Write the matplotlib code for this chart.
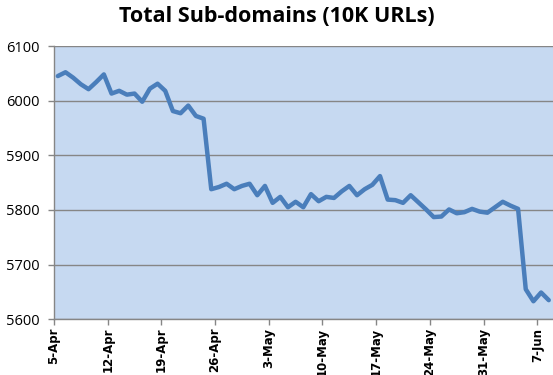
import matplotlib
matplotlib.use("Agg")
import matplotlib.pyplot as plt
import numpy as np

title = "Total Sub-domains (10K URLs)"
tick_labels = ["5-Apr", "12-Apr", "19-Apr", "26-Apr", "3-May", "10-May",
               "17-May", "24-May", "31-May", "7-Jun"]
# daily values from 5-Apr to 8-Jun
values = [6045, 6052, 6042, 6030, 6021, 6034, 6048, 6013, 6018, 6011,
          6013, 5998, 6022, 6031, 6018, 5981, 5977, 5991, 5972, 5967,
          5838, 5842, 5848, 5838, 5844, 5848, 5827, 5844, 5813, 5824,
          5805, 5815, 5805, 5829, 5816, 5824, 5822, 5834, 5844, 5827,
          5838, 5846, 5862, 5819, 5818, 5813, 5827, 5814, 5801, 5787,
          5788, 5801, 5794, 5796, 5802, 5797, 5795, 5805, 5815, 5808,
          5802, 5655, 5633, 5649, 5635]
y_ticks = [5600, 5700, 5800, 5900, 6000, 6100]

fig = plt.figure(figsize=(5.53, 3.75), dpi=100)
ax = fig.add_axes([54/553, 1-319.3/375, 498.6/553, 273.3/375])
ax.set_facecolor("#C6D9F1")

days = np.arange(len(values)) + 0.5
ax.plot(days, values, color="#4A7EBB", lw=3.2, solid_joinstyle="round",
        solid_capstyle="round", clip_on=False, zorder=3)

ax.set_xlim(0, len(values))
ax.set_ylim(5600, 6100)
ax.set_yticks(y_ticks)
ax.set_yticklabels([str(v) for v in y_ticks], fontsize=10.5, family="Open Sans")
ax.set_xticks(np.arange(len(tick_labels)) * 7)
ax.set_xticklabels(tick_labels, rotation=90, fontsize=8.5, fontweight="bold")
ax.grid(axis="y", color="#868686", lw=1)
ax.set_axisbelow(True)
for s in ["top", "right"]:
    ax.spines[s].set_visible(False)
for s in ["left", "bottom"]:
    ax.spines[s].set_color("#868686")
    ax.spines[s].set_linewidth(1)
ax.tick_params(axis="both", color="#868686", length=4, width=1, pad=2)
ax.tick_params(axis="y", pad=6)

fig.text(277/553, 1-17/375, title, ha="center", va="center",
         fontsize=15.5, fontweight="bold", family="Open Sans")

fig.savefig("out.png", dpi=100)
